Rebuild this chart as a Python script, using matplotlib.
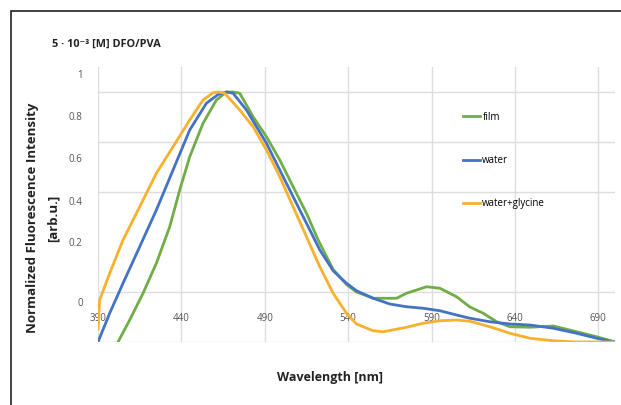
import matplotlib
matplotlib.use('Agg')
import matplotlib.pyplot as plt
from matplotlib.patches import Rectangle

plt.rcParams['font.family'] = ['Open Sans', 'DejaVu Sans']

# ---------------- data ----------------
film_x = [402, 409, 417, 425, 433, 439, 445, 453, 461, 467, 471, 475, 483, 491, 499, 507,
          515, 522, 531, 539, 545, 555, 569, 575, 587, 595, 605, 613, 621, 629, 637, 649,
          663, 677, 689, 700]
film_y = [0.0, 0.088, 0.195, 0.315, 0.461, 0.608, 0.741, 0.875, 0.968, 1.0, 1.0, 0.995,
          0.901, 0.821, 0.728, 0.621, 0.515, 0.408, 0.29, 0.23, 0.2, 0.175, 0.175, 0.195,
          0.221, 0.215, 0.181, 0.14, 0.115, 0.081, 0.061, 0.059, 0.064, 0.041, 0.021, 0.0]

water_x = [390, 397, 405, 415, 425, 435, 445, 455, 462, 467, 471, 479, 491, 499, 507, 515,
           523, 531, 539, 545, 555, 565, 575, 585, 595, 605, 613, 625, 637, 649, 663, 677,
           689, 700]
water_y = [0.0, 0.115, 0.235, 0.381, 0.528, 0.688, 0.848, 0.955, 0.99, 1.0, 0.995, 0.928,
           0.795, 0.688, 0.581, 0.475, 0.368, 0.285, 0.235, 0.205, 0.175, 0.152, 0.141,
           0.135, 0.125, 0.108, 0.095, 0.081, 0.072, 0.068, 0.055, 0.035, 0.015, 0.0]

glyc_x = [390, 391, 397, 405, 415, 425, 435, 445, 453, 459, 462, 466, 475, 483, 491, 499,
          507, 515, 523, 531, 539, 545, 555, 561, 575, 585, 595, 605, 613, 625, 637, 649,
          663, 677, 700]
glyc_y = [0.052, 0.168, 0.275, 0.408, 0.541, 0.675, 0.781, 0.888, 0.968, 0.997, 1.0, 0.995,
          0.928, 0.861, 0.768, 0.661, 0.541, 0.421, 0.301, 0.195, 0.115, 0.072, 0.045,
          0.041, 0.059, 0.075, 0.085, 0.088, 0.083, 0.061, 0.035, 0.015, 0.005, 0.0, 0.0]

series_names = ['film', 'water', 'water+glycine']
series_colors = ['#70AD47', '#4472C4', '#F7B12A']

x_ticks = [390, 440, 490, 540, 590, 640, 690]
y_grid = [0, 0.2, 0.4, 0.6, 0.8, 1.0]
# the printed y labels do not sit on the grid lines in the original
y_label_pos = [0.16, 0.40, 0.564, 0.736, 0.904, 1.072]
y_labels = ['0', '0.2', '0.4', '0.6', '0.8', '1']

# ---------------- figure ----------------
fig = plt.figure(figsize=(6.21, 4.05), dpi=100)
ax = fig.add_axes([98 / 621, 1 - 342 / 405, 517 / 621, 275 / 405])

for xs, ys, name, col in zip([film_x, water_x, glyc_x], [film_y, water_y, glyc_y],
                             series_names, series_colors):
    ax.plot(xs, ys, color=col, linewidth=2, label=name, zorder=3)

ax.set_xlim(390, 700)
ax.set_ylim(0, 1.1)

ax.set_xticks(x_ticks)
ax.set_xticklabels([str(t) for t in x_ticks])
ax.set_yticks(y_label_pos)
ax.set_yticklabels(y_labels)
ax.set_yticks(y_grid, minor=True)

ax.grid(True, axis='x', which='major', color='#DDDDDD', linewidth=1)
ax.grid(True, axis='y', which='minor', color='#DDDDDD', linewidth=1)
ax.tick_params(axis='x', which='both', length=0, pad=-21, labelsize=7, labelcolor='#555555')
ax.tick_params(axis='y', which='both', length=0, pad=11, labelsize=7, labelcolor='#555555')
for s in ax.spines.values():
    s.set_visible(False)

ax.set_axisbelow(True)

leg = fig.legend(loc='upper left', bbox_to_anchor=(458 / 621, 1 - 107 / 405),
                 frameon=False, fontsize=7, handlelength=1.8, handletextpad=0.2,
                 labelspacing=3.3, borderpad=0)

fig.text(52 / 621, 1 - 44 / 405, '5 · 10⁻³ [M] DFO/PVA', fontsize=7.8, fontweight='bold',
         ha='left', va='center', color='#222222')
fig.text(33 / 621, 1 - 218 / 405, 'Normalized Fluorescence Intensity', rotation=90,
         fontsize=9.5, fontweight='bold', ha='center', va='center', color='#222222')
fig.text(53 / 621, 1 - 218 / 405, '[arb.u.]', rotation=90,
         fontsize=9.5, fontweight='bold', ha='center', va='center', color='#222222')
fig.text(330 / 621, 1 - 378 / 405, 'Wavelength [nm]', fontsize=9, fontweight='bold',
         ha='center', va='center', color='#222222')

# outer frame (only its left and top edges fall inside the picture)
fig.patches.append(Rectangle((11 / 621, -0.1), 1.2, 1.1 - 11 / 405, transform=fig.transFigure,
                             fill=False, edgecolor='#222222', linewidth=1.2))

fig.savefig('out.png', dpi=100)
